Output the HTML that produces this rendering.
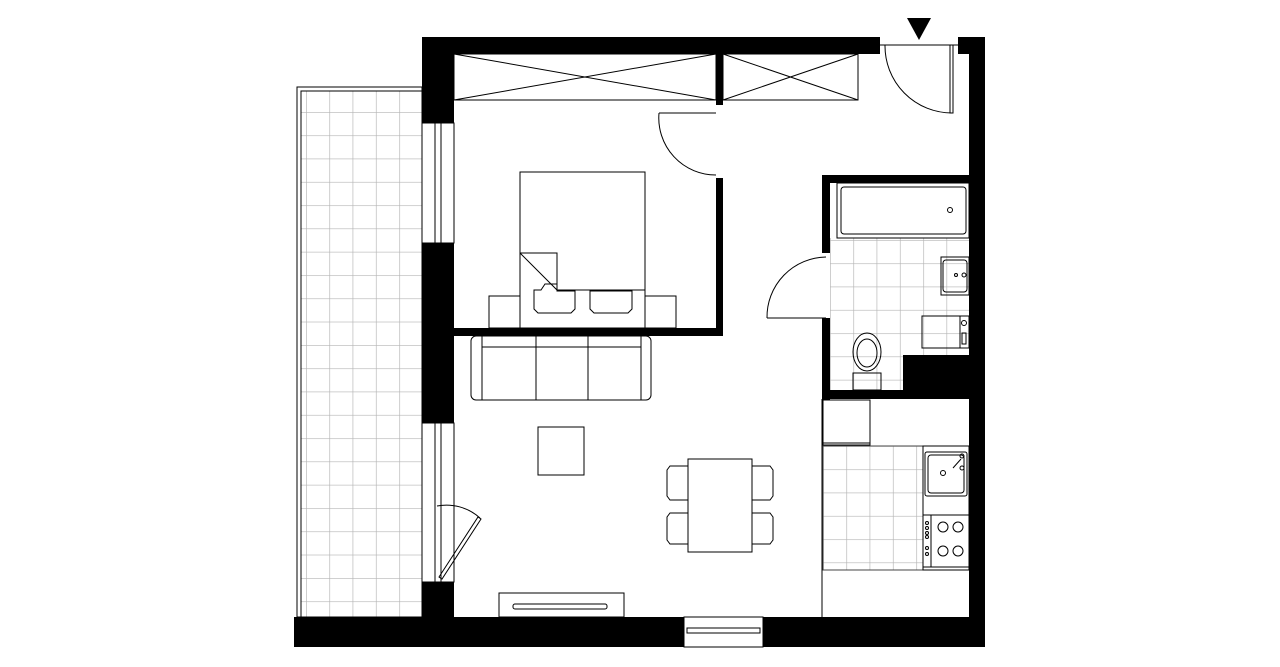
<!DOCTYPE html>
<html><head><meta charset="utf-8"><style>html,body{margin:0;padding:0;background:#fff}svg{display:block}</style></head>
<body>
<svg width="1280" height="667" viewBox="0 0 1280 667" xmlns="http://www.w3.org/2000/svg">
<defs>
<pattern id="tile" x="306" y="112" width="23.3" height="23.3" patternUnits="userSpaceOnUse">
<path d="M0 0H23.3M0 0V23.3" stroke="#b4b4b4" stroke-width="1.3" fill="none"/>
</pattern>
<pattern id="tile2" x="830" y="240" width="23.3" height="23.3" patternUnits="userSpaceOnUse">
<path d="M0 0H23.3M0 0V23.3" stroke="#b4b4b4" stroke-width="1.3" fill="none"/>
</pattern>
<pattern id="tile3" x="823" y="446" width="23.3" height="23.3" patternUnits="userSpaceOnUse">
<path d="M0 0H23.3M0 0V23.3" stroke="#b4b4b4" stroke-width="1.3" fill="none"/>
</pattern>
</defs>
<rect width="1280" height="667" fill="#fff"/>
<rect x="297" y="87" width="125" height="530" fill="none" stroke="#000" stroke-width="1"/>
<rect x="301" y="91" width="121" height="526" fill="url(#tile)" stroke="#000" stroke-width="1"/>
<rect x="830" y="238" width="139" height="152" fill="url(#tile2)"/>
<rect x="823" y="446" width="100" height="124" fill="url(#tile3)" stroke="#444" stroke-width="1"/>
<g fill="#000">
<rect x="422" y="37" width="458" height="17"/>
<rect x="958" y="37" width="27" height="17"/>
<rect x="969" y="37" width="16" height="610"/>
<rect x="422" y="37" width="32" height="86"/>
<rect x="422" y="243" width="32" height="180"/>
<rect x="422" y="582" width="32" height="40"/>
<rect x="294" y="617" width="390" height="30"/>
<rect x="763" y="617" width="222" height="30"/>
<rect x="454" y="328" width="269" height="8"/>
<rect x="716" y="178" width="7" height="158"/>
<rect x="716" y="54" width="7" height="51"/>
<rect x="822" y="175" width="147" height="8"/>
<rect x="822" y="175" width="8" height="78"/>
<rect x="822" y="318" width="8" height="82"/>
<rect x="822" y="390" width="147" height="9"/>
<rect x="903" y="355" width="66" height="44"/>
<polygon points="907,18 931,18 919,40"/>
</g>
<g fill="none" stroke="#000" stroke-width="1">
<rect x="422" y="123" width="32" height="120"/>
<line x1="435" y1="123" x2="435" y2="243"/><line x1="441" y1="123" x2="441" y2="243"/>
<rect x="422" y="423" width="32" height="159"/>
<line x1="435" y1="423" x2="435" y2="582"/><line x1="441" y1="423" x2="441" y2="582"/>
<rect x="684" y="617" width="79" height="30"/>
<rect x="687" y="628" width="73" height="5"/>
<rect x="454" y="54" width="262" height="46"/>
<path d="M454 54L716 100M454 100L716 54"/>
<rect x="723" y="54" width="135" height="46"/>
<path d="M723 54L858 100M723 100L858 54"/>
<path d="M659 113H716M659 113A57 57 0 0 0 716 175"/>
<path d="M880 45H958"/>
<rect x="950" y="45" width="3" height="68"/>
<path d="M885 45A67 67 0 0 0 952 113"/>
<path d="M767 318H826M767 318A60 60 0 0 1 826 257"/>
<path d="M437 506A50 50 0 0 1 480 518"/>
<path d="M439 577L478 517L481 519L442 579Z"/>
<rect x="520" y="172" width="125" height="156"/>
<line x1="557" y1="290" x2="645" y2="290"/>
<path d="M520 253H557V290L520 253"/>
<rect x="489" y="296" width="31" height="32"/>
<rect x="645" y="296" width="31" height="32"/>
<path d="M534 290H541L545 284H557V291H575V309L571 313H538L534 309Z"/>
<path d="M590 291H632V309L628 313H594L590 309Z"/>
<rect x="471" y="336" width="180" height="64" rx="5"/>
<line x1="482" y1="336" x2="482" y2="400"/><line x1="641" y1="336" x2="641" y2="400"/>
<line x1="482" y1="347" x2="641" y2="347"/>
<line x1="536" y1="336" x2="536" y2="400"/><line x1="588" y1="336" x2="588" y2="400"/>
<rect x="538" y="427" width="46" height="48"/>
<rect x="688" y="459" width="64" height="93"/>
<path d="M688 466H670L667 470V496L670 500H688"/>
<path d="M688 513H670L667 517V540L670 544H688"/>
<path d="M752 466H770L773 470V496L770 500H752"/>
<path d="M752 513H770L773 517V540L770 544H752"/>
<rect x="499" y="593" width="125" height="24"/>
<rect x="513" y="604" width="94" height="5" rx="2"/>
<rect x="837" y="183" width="132" height="55"/>
<rect x="841" y="187" width="125" height="47" rx="3"/>
<circle cx="950" cy="210" r="2.5"/>
<rect x="941" y="257" width="28" height="38"/>
<rect x="943" y="260" width="24" height="32" rx="3"/>
<circle cx="956" cy="275" r="1.5"/><circle cx="964" cy="275" r="2"/>
<rect x="922" y="316" width="38" height="32"/>
<rect x="960" y="316" width="9" height="32"/>
<circle cx="964" cy="323" r="2.5"/><rect x="962" y="333" width="4" height="11"/>
<ellipse cx="867" cy="352" rx="14" ry="19"/>
<ellipse cx="867" cy="353" rx="10" ry="14"/>
<rect x="853" y="373" width="28" height="17"/>
<line x1="822" y1="399" x2="822" y2="617"/>
<rect x="823" y="400" width="47" height="45"/>
<line x1="823" y1="443" x2="870" y2="443"/>
<rect x="923" y="446" width="46" height="124"/>
<rect x="925" y="452" width="42" height="44" rx="2"/>
<rect x="928" y="455" width="36" height="38" rx="3"/>
<circle cx="943" cy="473" r="2.5"/><circle cx="962" cy="456" r="2"/><circle cx="962" cy="468" r="2"/>
<path d="M953 468L961 459"/>
<rect x="923" y="515" width="46" height="52"/>
<line x1="931" y1="515" x2="931" y2="567"/>
<circle cx="927" cy="523" r="1.5"/><circle cx="927" cy="528" r="1.5"/><circle cx="927" cy="533" r="1.5"/><circle cx="927" cy="537" r="1.5"/>
<circle cx="927" cy="548" r="1.5"/><circle cx="927" cy="554" r="1.5"/>
<circle cx="943" cy="527" r="5"/><circle cx="958" cy="527" r="5"/>
<circle cx="943" cy="551" r="5"/><circle cx="958" cy="551" r="5"/>
</g>
</svg>
</body></html>
